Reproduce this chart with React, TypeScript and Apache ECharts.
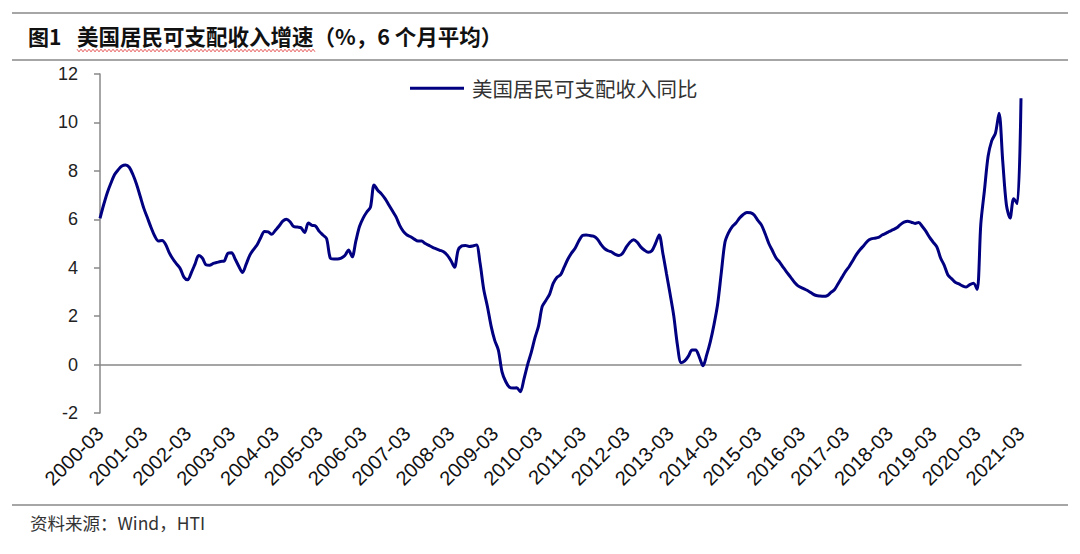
import React, { useEffect, useRef } from "react";
import * as echarts from "echarts";

const TITLE_NO = "图1";
const TITLE = "美国居民可支配收入增速（%，6 个月平均）";
const SOURCE = "资料来源：Wind，HTI";
const SERIES_NAME = "美国居民可支配收入同比";

const START_YEAR = 2000;
const START_MONTH = 3;

const yTicks = { min: -2, max: 12, interval: 2 };

// monthly values, each row = 12 months starting from March of the year
const v2000 = [6.04, 6.6, 7.1, 7.5, 7.85, 8.05, 8.2, 8.24, 8.15, 7.85, 7.45, 6.95];
const v2001 = [6.45, 6.05, 5.65, 5.3, 5.1, 5.12, 4.95, 4.6, 4.35, 4.15, 3.95, 3.6];
const v2002 = [3.5, 3.8, 4.15, 4.5, 4.4, 4.12, 4.1, 4.18, 4.22, 4.26, 4.28, 4.6];
const v2003 = [4.62, 4.35, 4.05, 3.8, 4.15, 4.52, 4.75, 4.95, 5.25, 5.5, 5.48, 5.38];
const v2004 = [5.55, 5.72, 5.92, 6.0, 5.9, 5.7, 5.68, 5.65, 5.45, 5.85, 5.75, 5.72];
const v2005 = [5.5, 5.35, 5.2, 4.4, 4.36, 4.36, 4.4, 4.5, 4.73, 4.45, 5.1, 5.7];
const v2006 = [6.05, 6.3, 6.5, 7.42, 7.2, 7.05, 6.85, 6.6, 6.35, 6.1, 5.75, 5.5];
const v2007 = [5.35, 5.28, 5.18, 5.1, 5.1, 5.0, 4.92, 4.84, 4.78, 4.72, 4.66, 4.52];
const v2008 = [4.3, 4.02, 4.73, 4.9, 4.92, 4.88, 4.9, 4.94, 4.18, 3.1, 2.4, 1.6];
const v2009 = [1.0, 0.6, -0.3, -0.7, -0.93, -0.97, -0.96, -1.12, -0.6, 0.0, 0.5, 1.1];
const v2010 = [1.6, 2.4, 2.65, 2.9, 3.35, 3.6, 3.7, 4.02, 4.35, 4.6, 4.8, 5.1];
const v2011 = [5.33, 5.35, 5.33, 5.3, 5.2, 4.98, 4.8, 4.7, 4.65, 4.55, 4.5, 4.6];
const v2012 = [4.85, 5.05, 5.15, 5.05, 4.85, 4.72, 4.64, 4.7, 5.0, 5.35, 4.6, 3.75];
const v2013 = [2.9, 2.0, 0.8, 0.08, 0.15, 0.35, 0.6, 0.6, 0.3, -0.05, 0.4, 0.95];
const v2014 = [1.65, 2.5, 3.8, 5.05, 5.45, 5.7, 5.85, 6.05, 6.2, 6.28, 6.27, 6.18];
const v2015 = [5.95, 5.76, 5.4, 5.0, 4.7, 4.4, 4.22, 4.0, 3.8, 3.6, 3.4, 3.25];
const v2016 = [3.17, 3.1, 3.02, 2.92, 2.85, 2.83, 2.82, 2.85, 2.98, 3.1, 3.35, 3.6];
const v2017 = [3.85, 4.05, 4.3, 4.55, 4.75, 4.92, 5.1, 5.19, 5.22, 5.25, 5.35, 5.42];
const v2018 = [5.5, 5.57, 5.65, 5.78, 5.88, 5.92, 5.88, 5.83, 5.87, 5.7, 5.5, 5.25];
const v2019 = [5.05, 4.85, 4.4, 4.1, 3.7, 3.55, 3.4, 3.33, 3.25, 3.2, 3.3, 3.36];
const v2020 = [3.1, 5.8, 7.2, 8.6, 9.25, 9.55, 10.38, 8.4, 6.6, 6.05, 6.85, 6.65];
const v2021 = [11.0];

const values = [
  ...v2000, ...v2001, ...v2002, ...v2003, ...v2004, ...v2005, ...v2006,
  ...v2007, ...v2008, ...v2009, ...v2010, ...v2011, ...v2012, ...v2013,
  ...v2014, ...v2015, ...v2016, ...v2017, ...v2018, ...v2019, ...v2020, ...v2021,
];

const categories: string[] = values.map((_, i) => {
  const m0 = START_MONTH - 1 + i;
  const y = START_YEAR + Math.floor(m0 / 12);
  const m = (m0 % 12) + 1;
  return `${y}-${m < 10 ? "0" + m : m}`;
});

const NUM_FONT = "'Liberation Sans', Arial, sans-serif";
const CJK_FONT = "'Noto Sans CJK SC', sans-serif";

export default function App() {
  const ref = useRef<HTMLDivElement>(null);

  useEffect(() => {
    if (!ref.current) return;
    const chart = echarts.init(ref.current, null, { renderer: "svg" });

    const wave: number[][] = [];
    for (let x = 77; x <= 316; x += 2) {
      wave.push([x, 50.5 + ((x - 77) % 4 === 0 ? -1.3 : 1.3)]);
    }

    chart.setOption({
      animation: false,
      backgroundColor: "#ffffff",
      grid: { left: 100, right: 59, top: 74, bottom: 141, containLabel: false },
      legend: {
        show: true,
        left: 405,
        top: 73,
        icon: "rect",
        itemWidth: 54,
        itemHeight: 3,
        textStyle: {
          fontFamily: CJK_FONT,
          fontSize: 20.5,
          color: "#333",
          padding: [0, 0, 0, 3],
        },
        data: [{ name: SERIES_NAME, itemStyle: { color: "#000080" } }],
      },
      xAxis: [
        {
          type: "category",
          data: categories,
          boundaryGap: false,
          axisLine: { show: true, onZero: true, lineStyle: { color: "#888", width: 1.5 } },
          axisTick: { show: false },
          axisLabel: { show: false },
          splitLine: { show: false },
        },
        {
          type: "category",
          data: categories,
          boundaryGap: false,
          position: "bottom",
          axisLine: { show: false, onZero: false },
          axisTick: { show: false },
          axisLabel: {
            show: true,
            interval: 11,
            rotate: 45,
            margin: 17,
            fontFamily: NUM_FONT,
            fontSize: 20,
            color: "#111",
          },
          splitLine: { show: false },
        },
      ],
      yAxis: {
        type: "value",
        min: yTicks.min,
        max: yTicks.max,
        interval: yTicks.interval,
        axisLine: { show: true, lineStyle: { color: "#888", width: 1.5 } },
        axisTick: { show: true, inside: false, length: 6, lineStyle: { color: "#888", width: 1.5 } },
        axisLabel: {
          margin: 22,
          fontFamily: NUM_FONT,
          fontSize: 18,
          color: "#222",
        },
        splitLine: { show: false },
      },
      series: [
        {
          name: SERIES_NAME,
          type: "line",
          xAxisIndex: 0,
          data: values,
          smooth: 0.3,
          symbol: "none",
          lineStyle: { color: "#000080", width: 3 },
          itemStyle: { color: "#000080" },
          z: 3,
        },
      ],
      graphic: [
        { type: "line", shape: { x1: 12, y1: 13, x2: 1068, y2: 13 }, style: { stroke: "#888", lineWidth: 1.5 } },
        { type: "line", shape: { x1: 12, y1: 60, x2: 1068, y2: 60 }, style: { stroke: "#888", lineWidth: 1.5 } },
        { type: "line", shape: { x1: 12, y1: 505, x2: 1068, y2: 505 }, style: { stroke: "#888", lineWidth: 1.5 } },
        {
          type: "text",
          left: 28,
          top: 25,
          style: { text: TITLE_NO, fontFamily: CJK_FONT, fontWeight: "bold", fontSize: 21, fill: "#111" },
        },
        {
          type: "text",
          left: 77,
          top: 25,
          style: { text: TITLE, fontFamily: CJK_FONT, fontWeight: "bold", fontSize: 21.5, fill: "#111" },
        },
        {
          type: "polyline",
          shape: { points: wave },
          style: { stroke: "#e03030", lineWidth: 0.8, fill: null },
        },
        {
          type: "text",
          left: 30,
          top: 514,
          style: { text: SOURCE, fontFamily: CJK_FONT, fontSize: 17.5, fill: "#333" },
        },
      ],
    });

    return () => chart.dispose();
  }, []);

  return (
    <div
      ref={ref}
      style={{ position: "fixed", left: 0, top: 0, width: 1080, height: 554, background: "#fff" }}
    />
  );
}
